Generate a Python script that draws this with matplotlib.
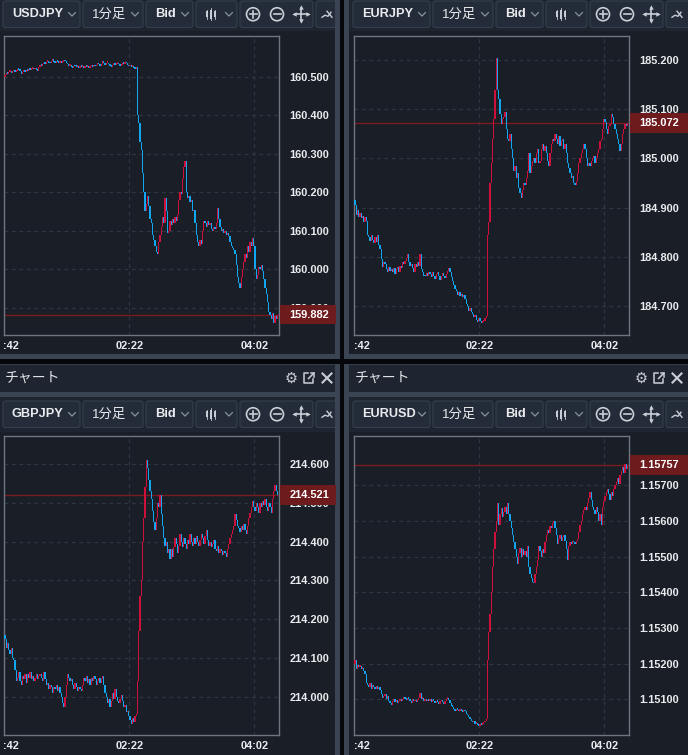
import matplotlib as mpl
import matplotlib.pyplot as plt
import numpy as np
from matplotlib.patches import Rectangle, FancyBboxPatch, Circle

mpl.rcParams["font.family"] = ["Liberation Sans", "Noto Sans CJK JP", "DejaVu Sans"]

W, H = 688, 755

GAP = "#06070a"
PANEL = "#1a1e26"
BAR = "#1e2530"
STRIP = "#3a4452"
BTN = "#232c38"
BTN_EDGE = "#353f4d"
FRAME = "#6d7681"
GRID = "#2f3641"
TXT = "#e9ebee"
ICON = "#c9ced6"
CHEV = "#8893a0"
UP = "#d0103c"
DOWN = "#12a6f0"
LAST = "#7a1c1f"
TAG = "#6e1b1e"

# ---- data (1-minute bars from 00:42, close per bar) ----
TIME_LABELS = ["02:22", "04:02"]
TIME_POS = [100, 200]
N_MIN = 220

USDJPY_OPEN0 = 160.500
USDJPY_CLOSE = [
    160.505, 160.510, 160.508, 160.512, 160.515, 160.511, 160.514, 160.518, 160.513, 160.516,
    160.520, 160.517, 160.515, 160.508, 160.512, 160.514, 160.513, 160.516, 160.515, 160.518,
    160.517, 160.520, 160.522, 160.519, 160.524, 160.518, 160.516, 160.525, 160.530, 160.528,
    160.532, 160.536, 160.534, 160.538, 160.541, 160.537, 160.535, 160.540, 160.545, 160.538,
    160.536, 160.542, 160.538, 160.537, 160.539, 160.536, 160.538, 160.542, 160.540, 160.537,
    160.532, 160.528, 160.531, 160.526, 160.524, 160.528, 160.527, 160.525, 160.526, 160.524,
    160.526, 160.525, 160.527, 160.524, 160.526, 160.525, 160.526, 160.524, 160.527, 160.528,
    160.526, 160.529, 160.527, 160.531, 160.536, 160.532, 160.528, 160.533, 160.540, 160.535,
    160.531, 160.536, 160.537, 160.532, 160.528, 160.526, 160.531, 160.534, 160.530, 160.533,
    160.536, 160.532, 160.528, 160.531, 160.535, 160.534, 160.538, 160.535, 160.530, 160.527,
    160.529, 160.525, 160.528, 160.524, 160.520, 160.525, 160.400, 160.380, 160.330, 160.310,
    160.250, 160.200, 160.150, 160.170, 160.190, 160.165, 160.130, 160.120, 160.090, 160.075,
    160.060, 160.045, 160.040, 160.070, 160.090, 160.110, 160.135, 160.120, 160.185, 160.150,
    160.095, 160.100, 160.125, 160.115, 160.130, 160.120, 160.135, 160.125, 160.140, 160.180,
    160.200, 160.195, 160.235, 160.265, 160.280, 160.200, 160.185, 160.190, 160.175, 160.180,
    160.150, 160.155, 160.120, 160.090, 160.070, 160.060, 160.075, 160.065, 160.100, 160.125,
    160.120, 160.110, 160.125, 160.115, 160.120, 160.105, 160.100, 160.110, 160.105, 160.120,
    160.160, 160.130, 160.110, 160.100, 160.105, 160.095, 160.100, 160.090, 160.095, 160.085,
    160.070, 160.060, 160.055, 160.050, 160.040, 160.010, 159.980, 159.965, 159.950, 159.980,
    160.000, 160.020, 160.040, 160.030, 160.060, 160.045, 160.070, 160.060, 160.080, 160.060,
    160.000, 159.975, 159.985, 160.005, 160.000, 160.010, 159.995, 159.975, 159.950, 159.935,
    159.915, 159.890, 159.880, 159.870, 159.885, 159.860, 159.878, 159.870, 159.882,
]
USDJPY_TICKS = [160.5, 160.4, 160.3, 160.2, 160.1, 160.0, 159.9]

EURJPY_OPEN0 = 184.915
EURJPY_CLOSE = [
    184.905, 184.885, 184.895, 184.880, 184.890, 184.878, 184.882, 184.870, 184.880, 184.872,
    184.845, 184.840, 184.832, 184.845, 184.835, 184.828, 184.840, 184.830, 184.845, 184.825,
    184.815, 184.795, 184.780, 184.790, 184.785, 184.775, 184.770, 184.780, 184.772, 184.776,
    184.770, 184.778, 184.766, 184.775, 184.780, 184.770, 184.782, 184.778, 184.790, 184.785,
    184.792, 184.798, 184.805, 184.790, 184.782, 184.786, 184.778, 184.770, 184.785, 184.780,
    184.790, 184.782, 184.805, 184.775, 184.770, 184.762, 184.760, 184.768, 184.762, 184.770,
    184.766, 184.758, 184.770, 184.762, 184.755, 184.765, 184.770, 184.760, 184.752, 184.760,
    184.768, 184.762, 184.757, 184.765, 184.772, 184.778, 184.770, 184.758, 184.750, 184.742,
    184.735, 184.730, 184.722, 184.728, 184.720, 184.725, 184.718, 184.722, 184.715, 184.705,
    184.700, 184.690, 184.695, 184.688, 184.684, 184.678, 184.682, 184.672, 184.668, 184.676,
    184.670, 184.665, 184.668, 184.670, 184.675, 184.680, 184.845, 184.870, 184.950, 184.990,
    185.040, 185.080, 185.140, 185.205, 185.140, 185.120, 185.090, 185.070, 185.080, 185.085,
    185.095, 185.060, 185.040, 185.035, 185.050, 185.020, 185.000, 184.975, 184.985, 184.960,
    184.970, 184.940, 184.930, 184.920, 184.935, 184.950, 184.945, 184.960, 184.975, 185.010,
    184.970, 184.985, 184.995, 185.000, 184.990, 185.010, 185.020, 184.990, 184.995, 185.020,
    185.030, 185.015, 185.025, 185.010, 184.995, 184.985, 185.010, 185.030, 185.040, 185.035,
    185.050, 185.040, 185.030, 185.045, 185.025, 185.035, 185.040, 185.020, 185.030, 185.010,
    184.990, 184.980, 184.970, 184.960, 184.965, 184.950, 184.945, 184.955, 184.970, 184.990,
    185.000, 185.010, 185.020, 185.030, 185.020, 185.000, 184.985, 184.990, 184.985, 184.995,
    185.000, 185.005, 184.990, 185.000, 185.010, 185.020, 185.035, 185.040, 185.060, 185.080,
    185.075, 185.060, 185.050, 185.065, 185.070, 185.090, 185.085, 185.070, 185.060, 185.050,
    185.040, 185.030, 185.015, 185.030, 185.050, 185.060, 185.070, 185.065, 185.072,
]
EURJPY_TICKS = [185.2, 185.1, 185.0, 184.9, 184.8, 184.7]

GBPJPY_OPEN0 = 214.160
GBPJPY_CLOSE = [
    214.150, 214.125, 214.140, 214.120, 214.110, 214.125, 214.100, 214.095, 214.070, 214.040,
    214.050, 214.065, 214.040, 214.030, 214.055, 214.045, 214.060, 214.035, 214.060, 214.050,
    214.065, 214.045, 214.055, 214.040, 214.050, 214.060, 214.045, 214.055, 214.060, 214.050,
    214.040, 214.065, 214.045, 214.030, 214.035, 214.020, 214.030, 214.025, 214.010, 214.025,
    214.020, 214.030, 214.015, 214.025, 214.010, 214.000, 213.985, 213.975, 214.000, 214.030,
    214.060, 214.050, 214.040, 214.045, 214.030, 214.020, 214.035, 214.025, 214.015, 214.025,
    214.020, 214.015, 214.030, 214.050, 214.040, 214.055, 214.035, 214.045, 214.030, 214.050,
    214.040, 214.055, 214.045, 214.030, 214.040, 214.050, 214.035, 214.045, 214.055, 214.030,
    214.010, 214.000, 213.985, 213.995, 213.975, 213.990, 214.010, 213.995, 214.020, 214.000,
    213.990, 213.985, 213.995, 214.005, 213.990, 213.975, 213.980, 213.960, 213.965, 213.950,
    213.940, 213.930, 213.945, 213.935, 213.950, 213.955, 214.040, 214.170, 214.260, 214.300,
    214.400, 214.460, 214.540, 214.610, 214.590, 214.560, 214.530, 214.510, 214.480, 214.450,
    214.430, 214.460, 214.500, 214.490, 214.520, 214.470, 214.440, 214.410, 214.390, 214.400,
    214.370, 214.380, 214.355, 214.380, 214.360, 214.385, 214.410, 214.395, 214.370, 214.390,
    214.420, 214.400, 214.385, 214.410, 214.395, 214.380, 214.405, 214.395, 214.420, 214.400,
    214.390, 214.410, 214.395, 214.415, 214.400, 214.390, 214.405, 214.420, 214.410, 214.395,
    214.415, 214.430, 214.405, 214.390, 214.400, 214.385, 214.395, 214.405, 214.380, 214.375,
    214.390, 214.370, 214.380, 214.375, 214.365, 214.375, 214.370, 214.360, 214.380, 214.395,
    214.410, 214.420, 214.430, 214.440, 214.470, 214.455, 214.440, 214.435, 214.425, 214.440,
    214.430, 214.445, 214.430, 214.420, 214.440, 214.460, 214.475, 214.490, 214.505, 214.490,
    214.480, 214.500, 214.490, 214.475, 214.500, 214.490, 214.505, 214.495, 214.510, 214.490,
    214.480, 214.500, 214.490, 214.475, 214.510, 214.530, 214.545, 214.530, 214.521,
]
GBPJPY_TICKS = [214.6, 214.5, 214.4, 214.3, 214.2, 214.1, 214.0]

EURUSD_OPEN0 = 1.15200
EURUSD_CLOSE = [
    1.15210, 1.15185, 1.15195, 1.15190, 1.15192, 1.15185, 1.15188, 1.15180, 1.15170, 1.15145,
    1.15140, 1.15135, 1.15145, 1.15130, 1.15140, 1.15135, 1.15128, 1.15138, 1.15130, 1.15135,
    1.15125, 1.15115, 1.15105, 1.15110, 1.15115, 1.15100, 1.15108, 1.15095, 1.15090, 1.15085,
    1.15095, 1.15100, 1.15092, 1.15098, 1.15090, 1.15096, 1.15100, 1.15094, 1.15100, 1.15106,
    1.15102, 1.15098, 1.15105, 1.15100, 1.15096, 1.15090, 1.15102, 1.15094, 1.15098, 1.15092,
    1.15098, 1.15105, 1.15118, 1.15100, 1.15104, 1.15096, 1.15100, 1.15094, 1.15098, 1.15095,
    1.15100, 1.15092, 1.15098, 1.15095, 1.15090, 1.15096, 1.15092, 1.15088, 1.15094, 1.15098,
    1.15092, 1.15086, 1.15094, 1.15100, 1.15104, 1.15098, 1.15090, 1.15082, 1.15078, 1.15072,
    1.15068, 1.15074, 1.15070, 1.15066, 1.15072, 1.15068, 1.15064, 1.15070, 1.15066, 1.15060,
    1.15055, 1.15050, 1.15045, 1.15040, 1.15035, 1.15038, 1.15030, 1.15034, 1.15028, 1.15025,
    1.15030, 1.15028, 1.15032, 1.15035, 1.15040, 1.15045, 1.15210, 1.15290, 1.15340, 1.15400,
    1.15470, 1.15520, 1.15570, 1.15600, 1.15650, 1.15590, 1.15620, 1.15635, 1.15610, 1.15625,
    1.15640, 1.15620, 1.15650, 1.15620, 1.15600, 1.15580, 1.15560, 1.15540, 1.15520, 1.15500,
    1.15480, 1.15510, 1.15525, 1.15500, 1.15520, 1.15505, 1.15515, 1.15500, 1.15530, 1.15470,
    1.15450, 1.15440, 1.15430, 1.15425, 1.15450, 1.15470, 1.15490, 1.15530, 1.15515, 1.15500,
    1.15520, 1.15510, 1.15540, 1.15560, 1.15575, 1.15565, 1.15585, 1.15580, 1.15595, 1.15600,
    1.15580, 1.15560, 1.15535, 1.15550, 1.15560, 1.15545, 1.15555, 1.15560, 1.15545, 1.15520,
    1.15490, 1.15530, 1.15540, 1.15535, 1.15545, 1.15540, 1.15535, 1.15545, 1.15550, 1.15570,
    1.15590, 1.15600, 1.15620, 1.15630, 1.15640, 1.15630, 1.15650, 1.15665, 1.15680, 1.15660,
    1.15640, 1.15630, 1.15620, 1.15640, 1.15625, 1.15600, 1.15620, 1.15590, 1.15640, 1.15655,
    1.15670, 1.15680, 1.15690, 1.15675, 1.15660, 1.15680, 1.15670, 1.15690, 1.15700, 1.15710,
    1.15720, 1.15705, 1.15730, 1.15740, 1.15750, 1.15735, 1.15760, 1.15745, 1.15757,
]
EURUSD_TICKS = [1.157, 1.156, 1.155, 1.154, 1.153, 1.152, 1.151]

PANELS = [
    dict(sym="USDJPY", col=0, row=0, open0=USDJPY_OPEN0, close=USDJPY_CLOSE,
         ticks=USDJPY_TICKS, dec=3, ylim=(159.829, 160.606)),
    dict(sym="EURJPY", col=1, row=0, open0=EURJPY_OPEN0, close=EURJPY_CLOSE,
         ticks=EURJPY_TICKS, dec=3, ylim=(184.6411, 185.2488)),
    dict(sym="GBPJPY", col=0, row=1, open0=GBPJPY_OPEN0, close=GBPJPY_CLOSE,
         ticks=GBPJPY_TICKS, dec=3, ylim=(213.902, 214.6722)),
    dict(sym="EURUSD", col=1, row=1, open0=EURUSD_OPEN0, close=EURUSD_CLOSE,
         ticks=EURUSD_TICKS, dec=5, ylim=(1.149999, 1.158382)),
]

fig = plt.figure(figsize=(W / 100, H / 100), dpi=100, facecolor=GAP)
bg = fig.add_axes([0, 0, 1, 1], zorder=0)
bg.set_xlim(0, W)
bg.set_ylim(H, 0)
bg.axis("off")


def frac(x0, y0, x1, y1):
    return [x0 / W, 1 - y1 / H, (x1 - x0) / W, (y1 - y0) / H]


def rect(x0, y0, x1, y1, color):
    bg.add_patch(Rectangle((x0, y0), x1 - x0, y1 - y0, facecolor=color, edgecolor="none"))


def chevron(x, y):
    bg.plot([x - 3.5, x, x + 3.5], [y - 1.8, y + 1.8, y - 1.8], color=CHEV, lw=0.9,
            solid_capstyle="round")


def toolbar(ox, y0, sym, xmax):
    h = 26.5
    yc = y0 + h / 2
    spans = [(3, 80), (83, 143), (146, 193), (196, 237), (240, 313), (316, 360)]
    for a, b in spans:
        b = min(ox + b, xmax + 3) - ox
        bg.add_patch(FancyBboxPatch((ox + a, y0), b - a, h,
                                    boxstyle="round,pad=0,rounding_size=2.5",
                                    facecolor=BTN, edgecolor=BTN_EDGE, lw=0.8))
    bg.text(ox + 12, yc, sym, color=TXT, fontsize=9.2, fontweight="bold", va="center")
    bg.text(ox + 92, yc + 0.5, "1分足", color=TXT, fontsize=9.6, va="center")
    bg.text(ox + 155, yc, "Bid", color=TXT, fontsize=9.4, fontweight="bold", va="center")
    for cx in (72, 135, 185, 229):
        chevron(ox + cx, yc)
    # candle icon
    for bx, bh in ((207, 6), (210.8, 9), (214.6, 6)):
        rect(ox + bx - 1.1, yc - bh / 2, ox + bx + 1.1, yc + bh / 2, ICON)
        bg.plot([ox + bx, ox + bx], [yc - bh / 2 - 1.5, yc + bh / 2 + 1.5], color=ICON, lw=0.6)
    # zoom in / out
    for cx, plus in ((253, True), (277, False)):
        bg.add_patch(Circle((ox + cx, yc), 6.5, facecolor="none", edgecolor=ICON, lw=1.2))
        bg.plot([ox + cx - 3.5, ox + cx + 3.5], [yc, yc], color=ICON, lw=1.2)
        if plus:
            bg.plot([ox + cx, ox + cx], [yc - 3.5, yc + 3.5], color=ICON, lw=1.2)
    # move icon
    mx = ox + 301
    bg.plot([mx - 6.5, mx + 6.5], [yc, yc], color=ICON, lw=1.2)
    bg.plot([mx, mx], [yc - 6.5, yc + 6.5], color=ICON, lw=1.2)
    for dx, dy, m in ((-7, 0, "<"), (7, 0, ">"), (0, -7, "^"), (0, 7, "v")):
        bg.plot(mx + dx, yc + dy, marker=m, ms=3.2, color=ICON, mec="none")
    # drawing-tool icon (cut at the panel edge)
    dx0 = ox + 322
    bg.plot([dx0, dx0 + 3, dx0 + 6, dx0 + 9],
            [yc + 3, yc + 1, yc + 2, yc - 2], color=ICON, lw=1.0)
    bg.plot([dx0 + 5, dx0 + 10], [yc - 3, yc + 3], color=ICON, lw=1.0)


def header(ox):
    yc = 378
    bg.text(ox + 5, yc, "チャート", color="#e3e6ea", fontsize=10, va="center")
    bg.text(ox + 291, yc + 0.5, "⚙", color=ICON, fontsize=10.5, va="center", ha="center",
            family="DejaVu Sans")
    px = ox + 309
    bg.plot([px - 1, px - 5, px - 5, px + 4, px + 4], [yc - 5, yc - 5, yc + 5, yc + 5, yc + 1],
            color=ICON, lw=1.1)
    bg.plot([px - 0.5, px + 5], [yc + 0.5, yc - 5], color=ICON, lw=1.1)
    bg.plot([px + 1.5, px + 5, px + 5], [yc - 5, yc - 5, yc - 1.5], color=ICON, lw=1.1)
    cx = ox + 327
    bg.plot([cx - 4.5, cx + 4.5], [yc - 4.5, yc + 4.5], color=ICON, lw=1.5)
    bg.plot([cx - 4.5, cx + 4.5], [yc + 4.5, yc - 4.5], color=ICON, lw=1.5)


# ---- panel chrome ----
COLS = [(0, 0, 335), (1, 349, 688)]
for col, x0, x1 in COLS:
    ox = 350 * col
    rect(x0, 0, x1, 354, PANEL)
    rect(x0, 0, x1, 31, BAR)
    toolbar(ox, 1, PANELS[col]["sym"], x1)
    rect(x0, 364, x1, 755, PANEL)
    rect(x0, 364, x1, 392, BAR)
    rect(x0, 392, x1, 397, STRIP)
    rect(x0, 397, x1, 432, BAR)
    rect(x0, 364, x1, 365, "#323b48")
    toolbar(ox, 401, PANELS[col + 2]["sym"], x1)
    header(ox)

rect(335, 0, 340, 359, STRIP)
rect(0, 354, 340, 359, STRIP)
rect(335, 364, 340, 755, STRIP)
rect(344, 0, 349, 359, STRIP)
rect(344, 354, 688, 359, STRIP)
rect(344, 364, 349, 755, STRIP)

# ---- charts ----
for p in PANELS:
    ox = 350 * p["col"]
    by0, by1 = (36, 335) if p["row"] == 0 else (436, 735)
    ax = fig.add_axes(frac(ox + 4.3, by0, ox + 279.3, by1), zorder=2)
    ax.set_facecolor(PANEL)
    ymin, ymax = p["ylim"]
    ax.set_xlim(0, N_MIN)
    ax.set_ylim(ymin, ymax)
    px_per = (by1 - by0) / (ymax - ymin)

    close = np.asarray(p["close"])
    opn = np.concatenate([[p["open0"]], close[:-1]])
    x = np.arange(len(close)) + 0.5
    lo = np.minimum(opn, close)
    hgt = np.maximum(np.abs(close - opn), 1.8 / px_per)
    colors = np.where(close >= opn, UP, DOWN)
    ax.bar(x, hgt, bottom=lo, width=1.0, color=colors, linewidth=0, zorder=3)

    last = close[-1]
    ax.axhline(last, color=LAST, lw=1.0, zorder=2)

    for s in ax.spines.values():
        s.set_color(FRAME)
        s.set_linewidth(1.0)
    ax.set_axisbelow(True)
    ax.grid(True, color=GRID, lw=0.9, linestyle=(0, (3, 3)))

    fmt = "{:.%df}" % p["dec"]
    ax.yaxis.tick_right()
    ax.set_yticks(p["ticks"], labels=[fmt.format(v) for v in p["ticks"]],
                  fontweight="bold", ha="right")
    ax.tick_params(axis="y", length=0, pad=35.8, labelcolor=TXT, labelsize=7.9)
    ax.set_xticks(TIME_POS, labels=TIME_LABELS, fontweight="bold")
    ax.tick_params(axis="x", length=0, pad=4.5, labelcolor=TXT, labelsize=7.9)
    ax.annotate(":42", xy=(-0.005 if p["col"] == 0 else 0.0, 0), xycoords="axes fraction",
                xytext=(0, -4.5), textcoords="offset points", ha="left", va="top",
                color=TXT, fontsize=7.9, fontweight="bold")

    # last-price tag
    tag_w = (56 if p["col"] == 0 else 60) / 275
    tag_h = 19.7 / px_per
    ax.add_patch(Rectangle((1.0 + 0.6 / 275, last - tag_h / 2), tag_w, tag_h,
                           transform=ax.get_yaxis_transform(), facecolor=TAG,
                           edgecolor="none", clip_on=False, zorder=10))
    ax.text(1.0 + 49.7 / 275, last, fmt.format(last), transform=ax.get_yaxis_transform(),
            ha="right", va="center", color="white", fontsize=7.9, fontweight="bold",
            zorder=11, clip_on=False)

fig.savefig("out.png", dpi=100, facecolor=GAP)
